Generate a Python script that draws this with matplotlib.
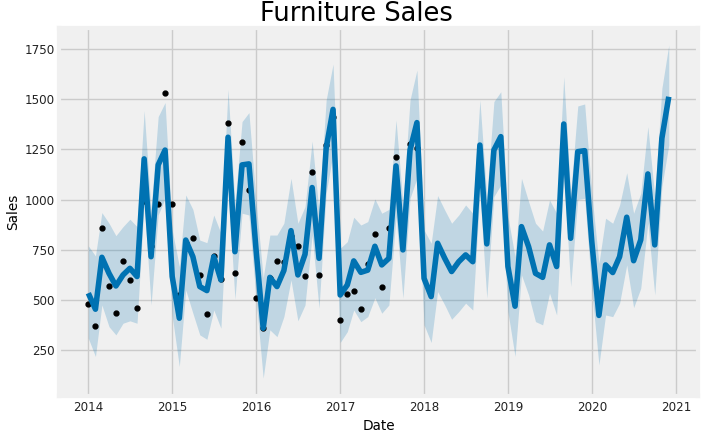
import pandas as pd
import numpy as np
import matplotlib
matplotlib.use('Agg')
import matplotlib.pyplot as plt

plt.style.use('fivethirtyeight')

# monthly furniture sales (observed, 2014-2017)
sales = [480, 368, 857, 567, 432, 695, 601, 458, 992, 769, 980, 1532,
         978, 522, 781, 806, 625, 429, 720, 602, 1383, 633, 1287, 1049,
         508, 357, 610, 695, 687, 817, 769, 620, 1136, 625, 1271, 1411,
         398, 528, 545, 453, 678, 826, 563, 858, 1210, 875, 1278, 1256]

# prophet forecast, 2014-2020
yhat = [533, 453, 712, 632, 569, 624, 657, 616, 1203, 715, 1173, 1247,
        616, 408, 798, 715, 566, 546, 715, 599, 1311, 740, 1173, 1178,
        749, 358, 612, 566, 646, 845, 624, 727, 1060, 707, 1256, 1450,
        524, 574, 694, 637, 648, 767, 674, 707, 1168, 749, 1247, 1384,
        607, 516, 782, 707, 641, 690, 724, 690, 1272, 779, 1247, 1314,
        666, 468, 865, 765, 632, 612, 774, 666, 1377, 807, 1239, 1244,
        790, 422, 674, 636, 715, 912, 695, 799, 1128, 774, 1306, 1513]

yhat_upper = [769, 719, 935, 882, 820, 865, 902, 865, 1444, 948, 1414, 1484,
              848, 666, 1023, 951, 798, 785, 923, 832, 1550, 981, 1389, 1434,
              990, 610, 823, 823, 882, 1106, 882, 965, 1292, 940, 1497, 1676,
              757, 790, 912, 873, 890, 1003, 932, 951, 1397, 981, 1497, 1646,
              848, 782, 1020, 948, 882, 923, 973, 932, 1497, 1015, 1489, 1538,
              915, 715, 1106, 990, 882, 843, 998, 932, 1613, 1031, 1467, 1477,
              1031, 682, 907, 882, 973, 1134, 932, 1031, 1364, 1015, 1555, 1771]

yhat_lower = [308, 217, 474, 366, 325, 383, 395, 383, 981, 474, 923, 1006,
              420, 167, 549, 433, 325, 303, 449, 358, 1065, 503, 932, 923,
              505, 109, 350, 316, 416, 599, 395, 474, 823, 458, 1031, 1231,
              287, 341, 449, 391, 416, 510, 433, 474, 915, 508, 1006, 1106,
              375, 287, 541, 474, 403, 441, 483, 449, 1031, 508, 1015, 1073,
              440, 217, 624, 524, 391, 375, 533, 424, 1131, 566, 1001, 1006,
              549, 175, 424, 416, 483, 674, 461, 557, 882, 524, 1065, 1272]

ds_obs = pd.date_range('2014-01-01', periods=len(sales), freq='MS')
ds_fc = pd.date_range('2014-01-01', periods=len(yhat), freq='MS')

fig = plt.figure(figsize=(7.04, 4.37), dpi=100, facecolor='w')
ax = fig.add_axes([59.3 / 704, (437 - 396) / 437, 638.5 / 704, 367.6 / 437])

ax.plot(ds_obs, sales, 'k.', markersize=7)
ax.plot(ds_fc, yhat, ls='-', c='#0072B2', lw=4)
ax.fill_between(ds_fc, yhat_lower, yhat_upper, color='#0072B2', alpha=0.2, lw=0)

ax.set_ylim(20, 1854)
ax.set_yticks([250, 500, 750, 1000, 1250, 1500, 1750])
ax.grid(True, which='major', c='#cbcbcb', ls='-', lw=1)
ax.tick_params(labelsize=8.6, colors='#222222')
ax.set_xlabel('Date', fontsize=9.8)
ax.set_ylabel('Sales', fontsize=9.8)
ax.yaxis.set_label_coords(-0.062, 0.5)
ax.set_title('Furniture Sales', fontsize=18.5, pad=5, x=0.466)

plt.savefig('out.png', dpi=100, facecolor='w')
